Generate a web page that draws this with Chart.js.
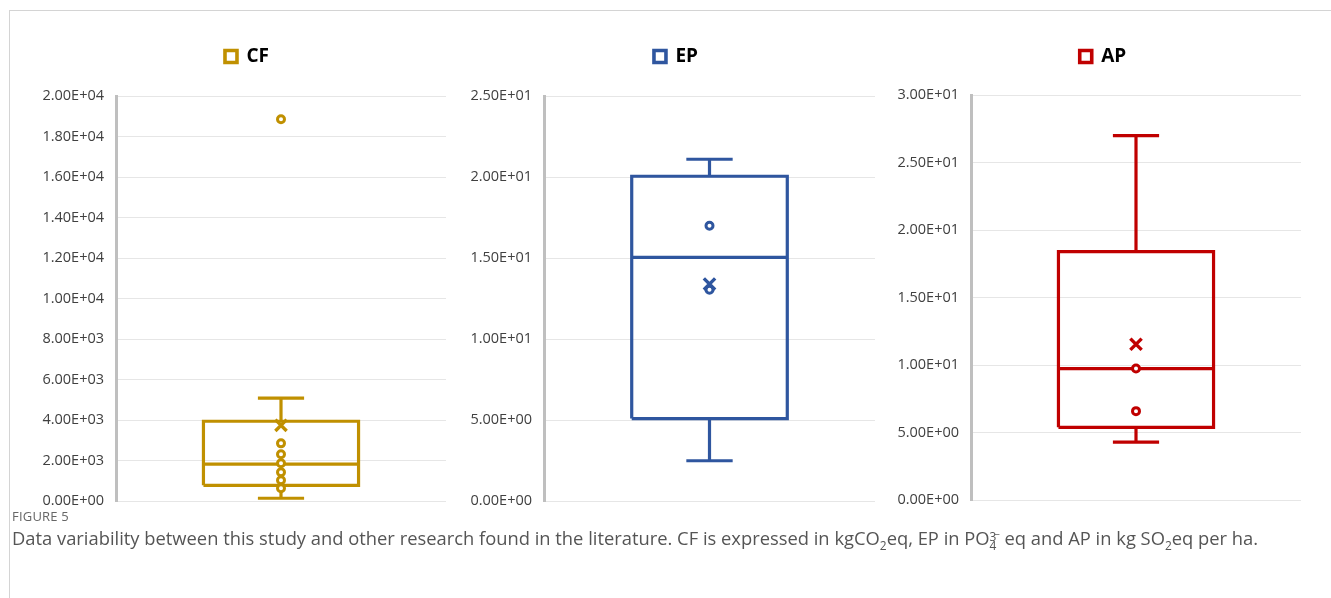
<!DOCTYPE html>
<html>
<head>
<meta charset="utf-8">
<script src="https://cdn.jsdelivr.net/npm/chart.js@4.4.1/dist/chart.umd.min.js"></script>
<style>
  html, body { margin: 0; padding: 0; background: #fff; }
  body { width: 1331px; height: 598px; position: relative; overflow: hidden; font-family: "Open Sans", "Noto Sans", sans-serif; }
  #frame { position: absolute; left: 9px; top: 10px; width: 1340px; height: 600px; border-left: 1px solid #d4d4d4; border-top: 1px solid #d4d4d4; }
  canvas { position: absolute; }
  #caption { position: absolute; left: 12px; top: 507px; color: #555; }
  #fig { font-size: 13px; letter-spacing: 0.2px; color: #666; }
  #txt { font-size: 18.35px; color: #555; }
  .st { display: inline-block; vertical-align: -0.45em; line-height: 0.75em; font-size: 0.65em; text-align: left; }
</style>
</head>
<body>
<div id="frame"></div>
<canvas id="c0"></canvas>
<canvas id="c1"></canvas>
<canvas id="c2"></canvas>
<div id="caption">
  <div id="fig">FIGURE 5</div>
  <div id="txt">Data variability between this study and other research found in the literature. CF is expressed in kgCO<sub style="font-size:0.65em">2</sub>eq, EP in PO<span class="st">3<br>4</span><sup style="font-size:0.6em;margin-left:-3px">−</sup> eq and AP in kg SO<sub style="font-size:0.65em">2</sub>eq per ha.</div>
</div>
<script>
// ---- data ----
const seriesNames = ["CF", "EP", "AP"];
const seriesColors = ["#C09000", "#2F569F", "#C00000"];
// five-number summaries [min whisker, Q1, median, Q3, max whisker]
const cfSummary = [150, 790, 1830, 3950, 5090];
const epSummary = [2.5, 5.1, 15.05, 20.05, 21.1];
const apSummary = [4.3, 5.4, 9.75, 18.4, 27.0];
const cfMean = 3750, epMean = 13.4, apMean = 11.55;
const cfPoints = [2860, 2320, 1880, 1430, 1040, 640];
const epPoints = [17.0, 13.05];
const apPoints = [9.75, 6.6];
const cfOutliers = [18850];
const epOutliers = [];
const apOutliers = [];
// axis ticks
const cfAxis = {min: 0, max: 20000, step: 2000};
const epAxis = {min: 0, max: 25, step: 5};
const apAxis = {min: 0, max: 30, step: 5};

// ---- layout (pixel placement of each panel) ----
const panels = [
  {left: 36, top: 30, width: 424, height: 492, axisW: 80, padR: 14, extra: 20, dx: 6},
  {left: 464, top: 30, width: 425, height: 492, axisW: 80, padR: 14, extra: 20, dx: 6.5},
  {left: 891, top: 30, width: 424, height: 491, axisW: 80, padR: 14, extra: 19, dx: 7}
];

function sci(v) {
  if (v === 0) return "0.00E+00";
  const e = Math.floor(Math.log10(Math.abs(v)) + 1e-9);
  const m = v / Math.pow(10, e);
  const es = (e < 0 ? "-" : "+") + String(Math.abs(e)).padStart(2, "0");
  return m.toFixed(2) + "E" + es;
}

function build(i, summary, mean, points, outliers, axis) {
  const color = seriesColors[i];
  const [lo, q1, med, q3, hi] = summary;
  const cx = 0.5, bh = 0.235, ch = 0.07;
  const ds = [];
  const lineDs = (data) => ({
    type: "line", data, borderColor: color, borderWidth: 3.2, pointRadius: 0,
    fill: false, tension: 0, borderJoinStyle: "miter", borderCapStyle: "butt", order: 2
  });
  ds.push(lineDs([{x: cx - bh, y: q1}, {x: cx + bh, y: q1}, {x: cx + bh, y: q3}, {x: cx - bh, y: q3}, {x: cx - bh, y: q1}]));
  ds.push(lineDs([{x: cx - bh, y: med}, {x: cx + bh, y: med}]));
  ds.push(lineDs([{x: cx, y: q3}, {x: cx, y: hi}]));
  ds.push(lineDs([{x: cx, y: q1}, {x: cx, y: lo}]));
  ds.push(lineDs([{x: cx - ch, y: hi}, {x: cx + ch, y: hi}]));
  ds.push(lineDs([{x: cx - ch, y: lo}, {x: cx + ch, y: lo}]));
  ds.push({
    type: "scatter", data: points.concat(outliers).map(v => ({x: cx, y: v})),
    pointStyle: "circle", pointRadius: 3.5, borderWidth: 3, borderColor: color,
    backgroundColor: "#fff", order: 1
  });
  ds.push({
    type: "scatter", data: [{x: cx, y: mean}], pointStyle: "crossRot",
    pointRadius: 8, borderWidth: 3.4, borderColor: color, backgroundColor: color, order: 0
  });

  const p = panels[i];
  const cv = document.getElementById("c" + i);
  cv.width = p.width; cv.height = p.height;
  cv.style.left = p.left + "px"; cv.style.top = p.top + "px";
  cv.style.width = p.width + "px"; cv.style.height = p.height + "px";

  const legendTweak = {
    id: "legendTweak",
    beforeInit(chart) {
      const lg = chart.legend;
      if (!lg) return;
      const fit0 = lg.fit, draw0 = lg.draw;
      lg.fit = function () { fit0.call(this); this.height += p.extra; };
      lg.draw = function () {
        const ctx = this.ctx; ctx.save(); ctx.translate(p.dx, 0); draw0.call(this); ctx.restore();
      };
    }
  };

  return new Chart(cv, {
    type: "scatter",
    data: {datasets: ds},
    plugins: [legendTweak],
    options: {
      responsive: false, animation: false, devicePixelRatio: 1,
      layout: {padding: {left: 0, right: p.padR, top: 0, bottom: 0}},
      plugins: {
        tooltip: {enabled: false},
        legend: {
          display: true, position: "top", align: "center",
          labels: {
            font: {family: "Open Sans", size: 19, weight: "bold"}, color: "#222",
            boxWidth: 12, boxHeight: 12, padding: 17,
            generateLabels: () => [{
              text: seriesNames[i], fillStyle: "#fff", strokeStyle: color,
              lineWidth: 3.6, hidden: false, datasetIndex: 0
            }]
          },
          onClick: () => {}
        }
      },
      scales: {
        x: {type: "linear", min: 0, max: 1, display: false},
        y: {
          type: "linear", min: axis.min, max: axis.max,
          afterFit: (s) => { s.width = p.axisW; },
          ticks: {
            stepSize: axis.step, padding: 12,
            font: {family: "Open Sans", size: 14.5}, color: "#404040",
            callback: (v) => sci(v)
          },
          grid: {color: "#e6e6e6", lineWidth: 1, drawTicks: false},
          border: {display: true, color: "#bfbfbf", width: 3}
        }
      }
    }
  });
}

build(0, cfSummary, cfMean, cfPoints, cfOutliers, cfAxis);
build(1, epSummary, epMean, epPoints, epOutliers, epAxis);
build(2, apSummary, apMean, apPoints, apOutliers, apAxis);
</script>
</body>
</html>
